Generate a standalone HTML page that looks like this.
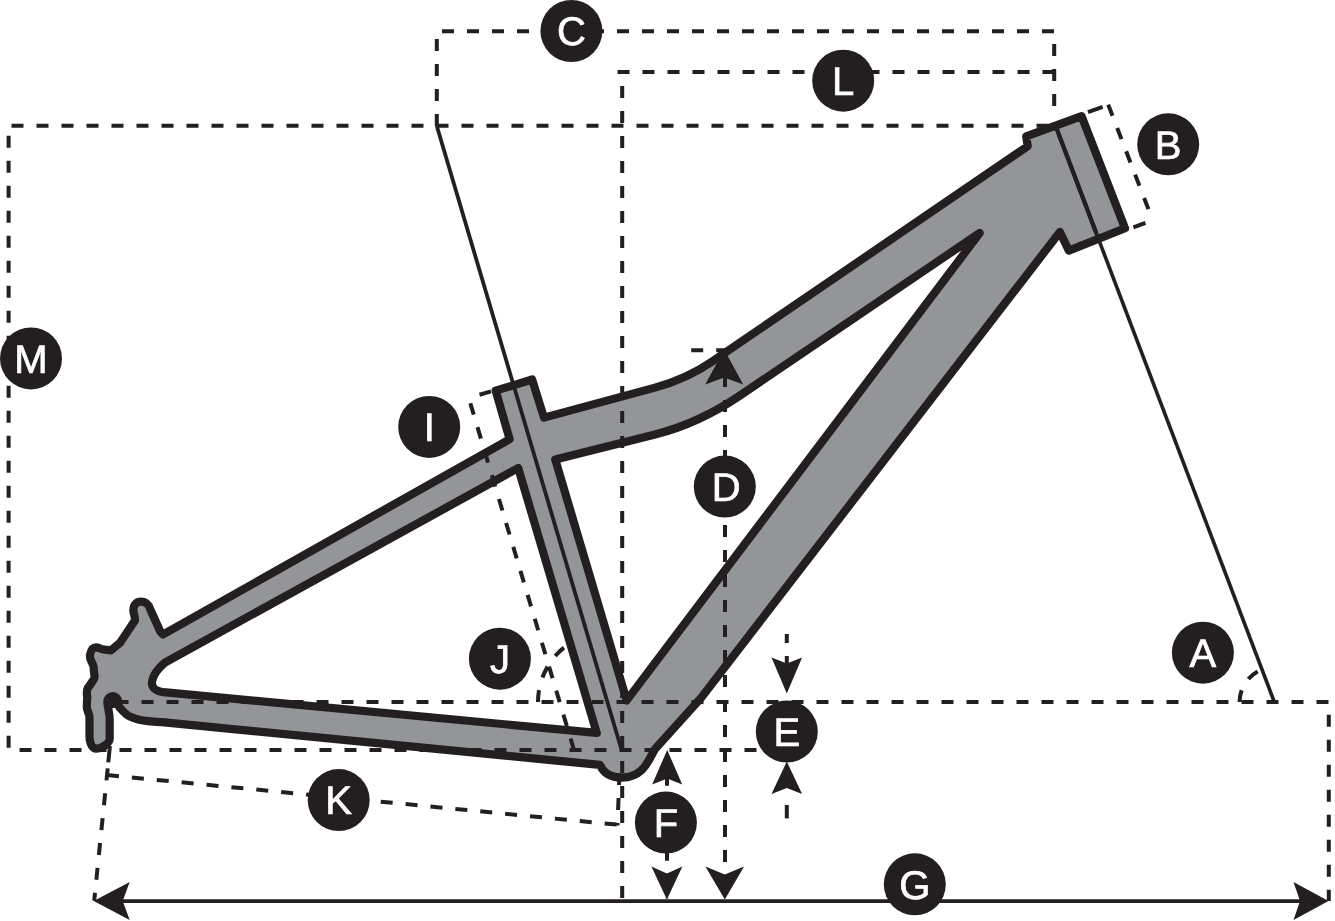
<!DOCTYPE html>
<html><head><meta charset="utf-8"><title>Frame geometry</title>
<style>
html,body{margin:0;padding:0;background:#fff;}
body{width:1335px;height:921px;overflow:hidden;font-family:"Liberation Sans",sans-serif;}
svg{display:block;}
#labels text{text-rendering:geometricPrecision;}
#labels text{filter:grayscale(1);}
</style></head><body>
<svg width="1335" height="921" viewBox="0 0 1335 921" role="img" aria-label="Bike frame geometry diagram">
<rect width="1335" height="921" fill="#fff"/>
<g stroke="#231f20" stroke-width="8.2" stroke-linejoin="round" stroke-linecap="round">
<path d="M 495.7 390.7 L 532.1 379.5 L 544.0 417.6 L 655 387.6 Q 686.7 378.9 712 361.6 L 1027.7 146.2 L 1026.2 136.4 L 1081.6 116.2 L 1125 228.2 L 1068.8 250.6 L 1059.9 231.9 L 701 698 L 655.5 748.5 C 650 755 646 777.6 621.6 777.6 C 610 777.6 603 772 599.9 764.9 L 161.9 722.2 L 160.2 722.1 C 150 721.5 145 721 139.3 719.7 C 133 718 129 716.5 126.7 714.6 C 123 711.5 121 709 119.3 707 C 118.5 705.5 118.2 703.5 118 701.5 A 5.3 5.3 0 0 0 107.4 701.5 C 107.4 708 109.7 712 109.7 720 L 109.7 739 C 109.7 742 107 744 104 746 C 101 748 98 749 95 748.5 C 92 747.5 90.5 744 89.8 740 L 89.5 737 C 89.5 730 89.6 722 89.4 716 C 88.5 712 86.8 710 86.8 707 C 86.8 703 86.8 701 87.3 698 C 86.5 693 86.5 690.5 87.7 688.2 C 92 682 95 679 94.5 675.9 C 94 672 93.5 669 93.7 666.9 C 92.5 662 89 659 90 654.9 C 91 650 93 647.4 96 647.4 C 99 647.4 100 649 101.9 649.2 L 110.9 650.4 L 119.9 642.9 L 134.9 620.4 C 135 615 133 613 133.4 610 C 133.5 604 137 601.7 140.9 601.7 C 146 601.7 149 605 149.9 608.5 L 160.4 631.7 L 163 634.5 L 509.6 439.2 Z" fill="#939598"/>
<path d="M 518.2 468.0 L 596.7 732.9 L 163.4 692.2 Q 150 690.2 152.3 680.5 Q 154 672 164.9 662.6 Z" fill="#fff"/>
<path d="M 555.3 459.6 L 655 434.5 Q 698.8 423.4 740 395.5 L 979.7 233.0 L 626.7 700.4 Z" fill="#fff"/>
</g>
<circle cx="112.7" cy="701.3" r="7" fill="#231f20"/>
<g stroke="#231f20" stroke-width="3.8" fill="none">
<line x1="436.8" y1="126" x2="621.6" y2="750"/>
<line x1="1055.6" y1="126" x2="1274.3" y2="702" stroke-width="3.6"/>
<line x1="1056.4" y1="128" x2="1096.5" y2="233.7" stroke-width="4.3"/>
<line x1="100" y1="901.1" x2="1320" y2="901.1" stroke-width="3.9"/>
</g>
<g stroke="#231f20" stroke-width="4.0" fill="none" stroke-dasharray="12 13">
<polyline points="756.5,749.9 8.6,749.9 8.6,125.7 1052,125.7"/>
<polyline points="436.8,126.1 436.8,31.3 1054.2,31.3 1054.2,117"/>
<line x1="622.2" y1="898" x2="622.2" y2="70.1"/>
<line x1="617.5" y1="72.1" x2="1054.6" y2="72.1"/>
<polyline points="116.5,702.1 1328.8,702.1 1328.8,901"/>
<line x1="725" y1="350" x2="725" y2="899"/>
<line x1="691.2" y1="350.2" x2="728" y2="350.2"/>
<line x1="109.9" y1="746" x2="108.3" y2="762.4" stroke-dasharray="none"/>
<line x1="107.7" y1="768.4" x2="94.2" y2="900.7"/>
<polyline points="107.0,775.1 617.5,824.7"/>
<line x1="619.5" y1="773" x2="617.5" y2="825.5"/>
<line x1="491" y1="391.3" x2="469.2" y2="397.8"/>
<line x1="470.3" y1="403.2" x2="574.0" y2="750"/>
<path d="M 538 702 A 70 70 0 0 1 568 644.6"/>
<path d="M 1239.6 702 A 34.8 34.8 0 0 1 1262 669.5"/>
<line x1="1088" y1="112.1" x2="1102.6" y2="106.9" stroke-dasharray="none"/>
<line x1="1108.2" y1="104.6" x2="1151.3" y2="216.6"/>
<line x1="1145.4" y1="222.8" x2="1133.4" y2="227.3" stroke-dasharray="none"/>
<line x1="667" y1="773.8" x2="667" y2="899"/>
<line x1="786.8" y1="634" x2="786.8" y2="666" stroke-dasharray="9 13 12 13"/>
<line x1="786.8" y1="818.4" x2="786.8" y2="805" stroke-dasharray="none"/>
</g>
<polygon points="724.2,349.5 743.2,384.5 724.2,377.5 705.2,384.5" fill="#231f20"/>
<polygon points="724.8,899.5 705.4,866.5 724.8,874.5 744.1,866.5" fill="#231f20"/>
<polygon points="667.2,749.9 682.2,784.4 667.2,778.4 652.2,784.4" fill="#231f20"/>
<polygon points="666.9,899.5 651.4,866.5 666.9,873.5 682.4,866.5" fill="#231f20"/>
<polygon points="786.8,693.4 771.5,657.4 786.8,663.4 802.1,657.4" fill="#231f20"/>
<polygon points="786.8,761.5 802.1,794.0 786.8,788.0 771.5,794.0" fill="#231f20"/>
<polygon points="93.7,901.1 129.7,882.1 122.7,901.1 129.7,920.1" fill="#231f20"/>
<polygon points="1328.5,901.1 1293.5,920.1 1300.0,901.1 1293.5,882.1" fill="#231f20"/>
<g id="labels">
<circle cx="1202.9" cy="652.7" r="31.0" fill="#231f20"/>
<text x="1202.9" y="667.0" font-family="Liberation Sans, sans-serif" font-size="40" fill="#fff" stroke="#fff" stroke-width="0.7" text-anchor="middle">A</text>
<circle cx="1168.2" cy="144.3" r="31.0" fill="#231f20"/>
<text x="1168.2" y="158.60000000000002" font-family="Liberation Sans, sans-serif" font-size="40" fill="#fff" stroke="#fff" stroke-width="0.7" text-anchor="middle">B</text>
<circle cx="571.4" cy="31.0" r="31.0" fill="#231f20"/>
<text x="571.4" y="45.3" font-family="Liberation Sans, sans-serif" font-size="40" fill="#fff" stroke="#fff" stroke-width="0.7" text-anchor="middle">C</text>
<circle cx="724.8" cy="486.6" r="31.0" fill="#231f20"/>
<text x="726.3" y="500.90000000000003" font-family="Liberation Sans, sans-serif" font-size="40" fill="#fff" stroke="#fff" stroke-width="0.7" text-anchor="middle">D</text>
<circle cx="786.8" cy="731.6" r="31.0" fill="#231f20"/>
<text x="786.8" y="745.9" font-family="Liberation Sans, sans-serif" font-size="40" fill="#fff" stroke="#fff" stroke-width="0.7" text-anchor="middle">E</text>
<circle cx="665.9" cy="822.6" r="31.0" fill="#231f20"/>
<text x="665.9" y="836.9" font-family="Liberation Sans, sans-serif" font-size="40" fill="#fff" stroke="#fff" stroke-width="0.7" text-anchor="middle">F</text>
<circle cx="914.8" cy="884.3" r="31.0" fill="#231f20"/>
<text x="914.8" y="898.5999999999999" font-family="Liberation Sans, sans-serif" font-size="40" fill="#fff" stroke="#fff" stroke-width="0.7" text-anchor="middle">G</text>
<circle cx="429.2" cy="426.9" r="31.0" fill="#231f20"/>
<text x="429.2" y="441.2" font-family="Liberation Sans, sans-serif" font-size="40" fill="#fff" stroke="#fff" stroke-width="0.7" text-anchor="middle">I</text>
<circle cx="499.9" cy="658.7" r="31.0" fill="#231f20"/>
<text x="499.9" y="673.0" font-family="Liberation Sans, sans-serif" font-size="40" fill="#fff" stroke="#fff" stroke-width="0.7" text-anchor="middle">J</text>
<circle cx="338.7" cy="800.1" r="31.0" fill="#231f20"/>
<text x="338.7" y="814.4" font-family="Liberation Sans, sans-serif" font-size="40" fill="#fff" stroke="#fff" stroke-width="0.7" text-anchor="middle">K</text>
<circle cx="843.2" cy="80.7" r="31.0" fill="#231f20"/>
<text x="843.2" y="95.0" font-family="Liberation Sans, sans-serif" font-size="40" fill="#fff" stroke="#fff" stroke-width="0.7" text-anchor="middle">L</text>
<circle cx="31.0" cy="358.4" r="31.0" fill="#231f20"/>
<text x="31.0" y="372.7" font-family="Liberation Sans, sans-serif" font-size="40" fill="#fff" stroke="#fff" stroke-width="0.7" text-anchor="middle">M</text>
</g>
</svg>
</body></html>
